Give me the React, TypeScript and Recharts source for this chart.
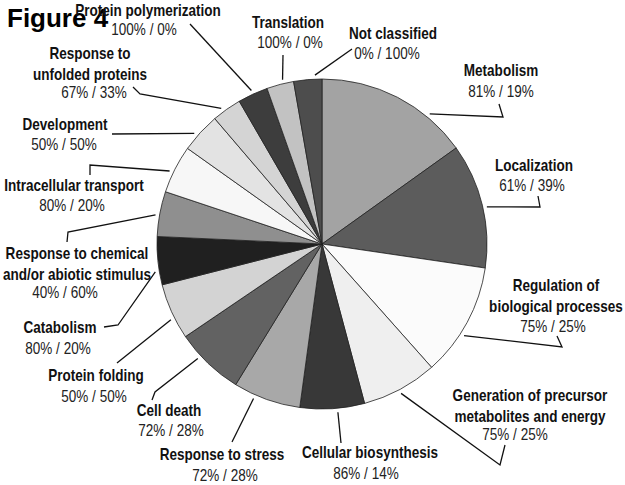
import React from "react";
import { PieChart, Pie, Cell } from "recharts";

// categories, clockwise from 12 o'clock
const categories = [
  "Metabolism",
  "Localization",
  "Regulation of\nbiological processes",
  "Generation of precursor\nmetabolites and energy",
  "Cellular biosynthesis",
  "Response to stress",
  "Cell death",
  "Protein folding",
  "Catabolism",
  "Response to chemical\nand/or abiotic stimulus",
  "Intracellular transport",
  "Development",
  "Response to\nunfolded proteins",
  "Protein polymerization",
  "Translation",
  "Not classified",
];

// slice sizes (share of the pie, %)
const shares = [15.1, 12.2, 11.1, 7.4, 6.3, 6.6, 6.75, 5.5, 4.7, 4.4, 4.7, 3.9, 2.9, 2.95, 2.65, 2.75];

const ratios = [
  "81% / 19%",
  "61% / 39%",
  "75% / 25%",
  "75% / 25%",
  "86% / 14%",
  "72% / 28%",
  "72% / 28%",
  "50% / 50%",
  "80% / 20%",
  "40% / 60%",
  "80% / 20%",
  "50% / 50%",
  "67% / 33%",
  "100% / 0%",
  "100% / 0%",
  "0% / 100%",
];

const fills = [
  "#a3a3a3", "#5c5c5c", "#fbfbfb", "#efefef", "#383838", "#a8a8a8", "#626262", "#d3d3d3",
  "#202020", "#8f8f8f", "#f7f7f7", "#e3e3e3", "#d4d4d4", "#3d3d3d", "#c2c2c2", "#4d4d4d",
];

const data = categories.map((name, i) => ({ name, value: shares[i], ratio: ratios[i] }));

// label layout: angle where the leader leaves the pie (deg clockwise from top),
// leader bend points, name x / first baseline, ratio x / baseline
type Layout = { a: number; pts: number[][]; tx: number; ty: number; rx: number; ry: number };
const layout: Layout[] = [
  { a: 39.6, pts: [[503, 117], [499, 104]], tx: 501, ty: 75, rx: 501, ry: 96 },
  { a: 77.3, pts: [[540, 207], [538, 196]], tx: 534, ty: 170, rx: 532, ry: 190 },
  { a: 122.8, pts: [[562, 347], [557, 336]], tx: 556, ty: 290, rx: 553, ry: 331 },
  { a: 152.1, pts: [[500, 465], [505, 445]], tx: 530, ty: 400, rx: 515, ry: 439 },
  { a: 174.6, pts: [[341, 443]], tx: 370, ty: 457, rx: 366, ry: 478 },
  { a: 203.9, pts: [[232, 442]], tx: 222, ty: 459, rx: 225, ry: 480 },
  { a: 227.3, pts: [[155, 392], [152, 400]], tx: 169, ty: 415, rx: 171, ry: 435 },
  { a: 243.4, pts: [[117, 363]], tx: 96, ty: 380, rx: 94, ry: 401 },
  { a: 260.5, pts: [[118, 325], [104, 327]], tx: 60, ty: 332, rx: 58, ry: 353 },
  { a: 279.9, pts: [[68, 232], [67, 242]], tx: 77, ty: 258, rx: 65, ry: 297 },
  { a: 295.6, pts: [[90, 165], [90, 175]], tx: 74, ty: 190, rx: 72, ry: 210 },
  { a: 310.9, pts: [[112, 134]], tx: 65, ty: 129, rx: 64, ry: 149 },
  { a: 323.4, pts: [[140, 94], [133, 87]], tx: 90, ty: 58, rx: 94, ry: 97 },
  { a: 335.3, pts: [[190, 24]], tx: 148, ty: 15, rx: 144, ry: 34 },
  { a: 346.5, pts: [[283, 55]], tx: 288, ty: 27, rx: 290, ry: 47 },
  { a: 357.6, pts: [[352, 49]], tx: 393, ty: 38, rx: 387, ry: 58 },
];

const font = "'Liberation Sans', Arial, sans-serif";
const squeeze = 0.82; // the figure uses a narrow face

const Label = ({ x, y, bold, children }: { x: number; y: number; bold?: boolean; children: any }) => (
  <text transform={`translate(${x},${y}) scale(${squeeze},1)`} x={0} y={0} textAnchor="middle"
    fontFamily={font} fontSize={16.5} fontWeight={bold ? "bold" : "normal"} fill={bold ? "#111" : "#222"}>
    {children}
  </text>
);

const renderLabel = (props: any) => {
  const { cx, cy, outerRadius, index } = props;
  const l = layout[index];
  const rad = (l.a * Math.PI) / 180;
  const r = outerRadius + 4;
  const sx = cx + r * Math.sin(rad);
  const sy = cy - r * Math.cos(rad);
  const path = [[sx, sy], ...l.pts].map((p) => p.join(",")).join(" ");
  const lines = categories[index].split("\n");
  return (
    <g key={`lbl-${index}`}>
      <polyline points={path} fill="none" stroke="#111" strokeWidth={1.3} />
      {lines.map((t, k) => (
        <Label key={k} x={l.tx} y={l.ty + 1 + k * 20.5} bold>
          {t}
        </Label>
      ))}
      <Label x={l.rx} y={l.ry + 1}>{ratios[index]}</Label>
    </g>
  );
};

export default function App() {
  return (
    <div style={{ position: "absolute", left: 0, top: 0, background: "#fff" }}>
      <PieChart width={625} height={485} margin={{ top: 0, right: 0, bottom: 0, left: 0 }}>
        <Pie
          data={data}
          dataKey="value"
          nameKey="name"
          cx={322}
          cy={244}
          outerRadius={165}
          startAngle={90}
          endAngle={-270}
          stroke="#222"
          strokeWidth={0.8}
          label={renderLabel}
          labelLine={false}
          isAnimationActive={false}
        >
          {data.map((d, i) => (
            <Cell key={d.name} fill={fills[i]} />
          ))}
        </Pie>
        <text x={7} y={27} fontFamily={font} fontSize={26} fontWeight="bold" fill="#000">
          Figure 4
        </text>
      </PieChart>
    </div>
  );
}
